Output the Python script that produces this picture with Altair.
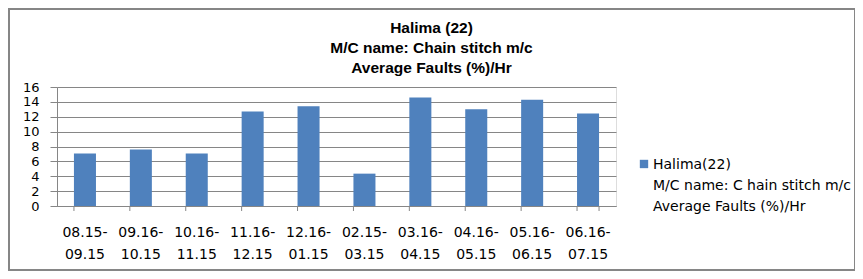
import altair as alt
import pandas as pd

categories = ["08.15-09.15", "09.16-10.15", "10.16-11.15", "11.16-12.15", "12.16-01.15",
              "02.15-03.15", "03.16-04.15", "04.16-05.15", "05.16-06.15", "06.16-07.15"]
values = [7.05, 7.6, 7.05, 12.7, 13.4, 4.35, 14.6, 13.0, 14.3, 12.45]
series_name = "Halima(22)|M/C name: C hain stitch m/c|\u2002Average Faults (%)/Hr"
title_lines = ["Halima (22)", "M/C name: Chain stitch m/c", "Average Faults (%)/Hr"]
y_ticks = [0, 2, 4, 6, 8, 10, 12, 14, 16]

df = pd.DataFrame({"cat": categories, "val": values, "series": [series_name] * len(categories)})
edge_df = pd.DataFrame({"cat": [categories[-1]]})

W, H = 559, 119
xscale = alt.Scale(domain=categories, paddingInner=0.606, paddingOuter=0.303)
GRAY = "#868686"

bars = alt.Chart(df).mark_bar(color="#4F81BD").encode(
    x=alt.X("cat:N", sort=None, scale=xscale, title=None,
            axis=alt.Axis(labelAngle=0, tickSize=0, domainColor=GRAY, labelFont="DejaVu Sans",
                          labelFontSize=14, labelColor="#000000", labelPadding=19,
                          labelLineHeight=22, labelBaseline="top",
                          labelExpr="[slice(datum.label,0,6), slice(datum.label,6)]")),
    y=alt.Y("val:Q", scale=alt.Scale(domain=[0, 16]), title=None,
            axis=alt.Axis(values=y_ticks, grid=True, gridColor=GRAY, domainColor=GRAY,
                          tickColor=GRAY, tickSize=7, labelPadding=11, labelFont="DejaVu Sans",
                          labelFontSize=13, labelColor="#000000", labelLineHeight=15)),
    color=alt.Color("series:N", scale=alt.Scale(range=["#4F81BD"]), title=None,
                    legend=alt.Legend(orient="none", legendX=580, legendY=64,
                                      symbolType="M-1,0.43H1V2.43H-1Z", symbolSize=70,
                                      symbolStrokeWidth=0, labelOffset=2,
                                      labelFont="DejaVu Sans", labelFontSize=14,
                                      labelColor="#000000", labelLimit=300,
                                      labelBaseline="top",
                                      labelExpr="split(datum.label, '|')")),
)

ticks = alt.Chart(df).mark_rule(color=GRAY).encode(
    x=alt.X("cat:N", sort=None, scale=xscale, bandPosition=0),
    y=alt.value(H), y2=alt.value(H + 5),
)
edge_tick = alt.Chart(edge_df).mark_rule(color=GRAY).encode(
    x=alt.X("cat:N", sort=None, scale=xscale, bandPosition=1),
    y=alt.value(H), y2=alt.value(H + 5),
)
border = alt.Chart(edge_df).mark_rect(fill=None, stroke=GRAY, strokeWidth=2, clip=False).encode(
    x=alt.value(-48), x2=alt.value(798), y=alt.value(-78), y2=alt.value(183),
)

chart = alt.layer(bars, ticks, edge_tick, border).properties(
    width=W, height=H,
    padding={"left": 49, "top": 79, "right": 239, "bottom": 65},
    autosize=alt.AutoSizeParams(type="none"),
    title=alt.TitleParams(text=title_lines, anchor="middle", frame="group", dx=95, dy=76,
                          offset=8, font="Liberation Sans", fontSize=15.5, fontWeight="bold",
                          lineHeight=20, color="#000000"),
).configure_view(stroke=None).configure(
    background="white", style={"guide-label": {"lineHeight": 21}})

chart.save("out.html", embed_options={"renderer": "svg", "actions": False})
